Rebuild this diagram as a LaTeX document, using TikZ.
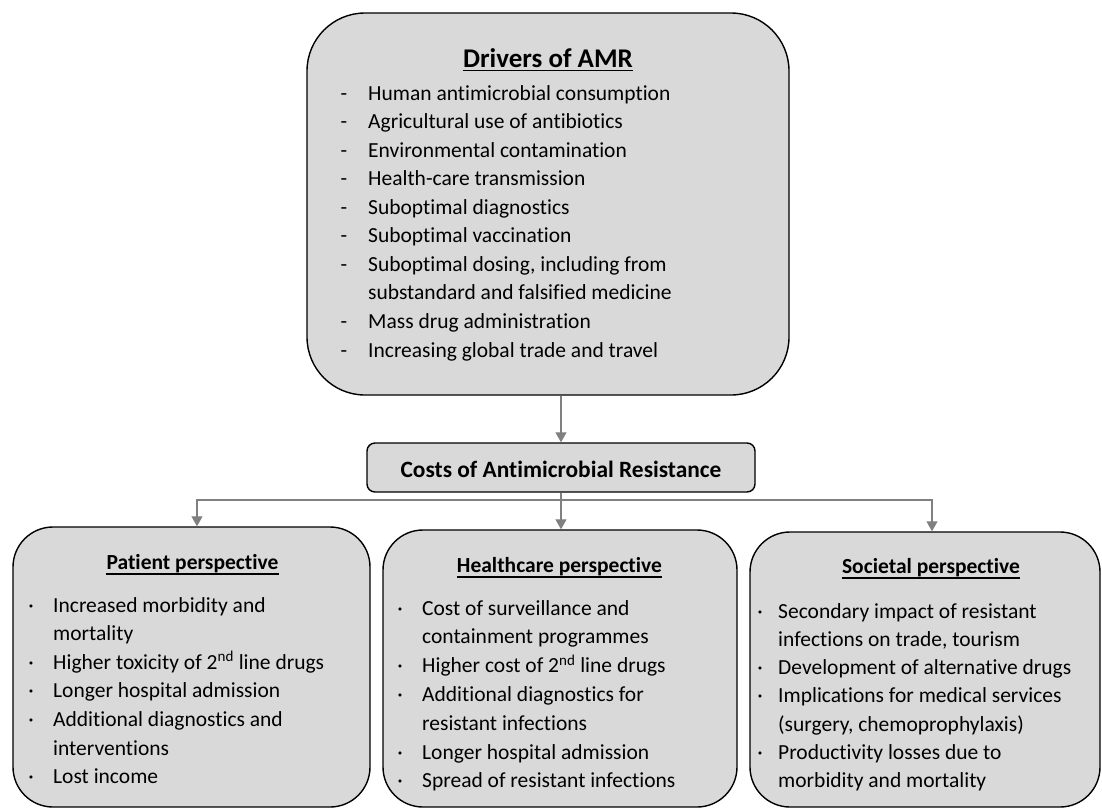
\documentclass[tikz,border=0pt]{standalone}
\usepackage{fontspec}
\setmainfont{Carlito}[Ligatures={NoCommon}]
\usetikzlibrary{arrows.meta}
\definecolor{boxfill}{RGB}{217,217,217}
\definecolor{conngray}{RGB}{128,128,128}
\tikzset{
  bigbox/.style={draw=black, line width=1.4pt, fill=boxfill, rounded corners=#1, inner sep=0pt},
  txt/.style={inner sep=0pt, anchor=base west, font=\fontsize{21.5}{26}\selectfont},
  bul/.style={inner sep=0pt, anchor=base, font=\fontsize{21.5}{26}\selectfont},
  ttl/.style={inner sep=0pt, anchor=base, font=\fontsize{21.5}{26}\selectfont\bfseries},
  uline/.style={line width=1.3pt},
  connline/.style={draw=conngray, line width=1.1pt},
  arr/.style={connline, -{Triangle[width=11pt,length=10pt]}}
}
\begin{document}
\begin{tikzpicture}[x=1pt,y=-1pt]
\useasboundingbox (0,0) rectangle (1102,809);
% boxes
\node[bigbox=58, minimum width=482, minimum height=382] (drivers) at (548,204) {};
\node[bigbox=8, minimum width=388, minimum height=49] (costs) at (561,467.5) {};
\node[bigbox=40, minimum width=357, minimum height=280] (patient) at (191.5,667) {};
\node[bigbox=40, minimum width=354, minimum height=277] (health) at (560,668.5) {};
\node[bigbox=40, minimum width=350, minimum height=275] (soc) at (925,669.5) {};
% connectors
\draw[arr] (costs.north |- drivers.south) -- (costs.north);
\coordinate (hub) at (561,500);
\draw[connline] (costs.south) -- (hub);
\draw[arr] (hub) -| ([xshift=5.5pt]patient.north);
\draw[arr] (hub) -- (hub |- health.north);
\draw[arr] (hub) -| ([xshift=7pt]soc.north);
% titles
\node[ttl, font=\fontsize{27}{32}\selectfont\bfseries] (t0) at (548,67) {Drivers of AMR};
\draw[uline] ([yshift=-3.5pt]t0.base west) -- ([yshift=-3.5pt]t0.base east);
\node[ttl, font=\fontsize{23.4}{28}\selectfont\bfseries] (t1) at (561,477) {Costs of Antimicrobial Resistance};
\node[ttl] (t2) at (192.5,569) {Patient perspective};
\draw[uline] ([yshift=-5pt]t2.base west) -- ([yshift=-5pt]t2.base east);
\node[ttl] (t3) at (559.5,572) {Healthcare perspective};
\draw[uline] ([yshift=-5pt]t3.base west) -- ([yshift=-5pt]t3.base east);
\node[ttl] (t4) at (931,573) {Societal perspective};
\draw[uline] ([yshift=-5pt]t4.base west) -- ([yshift=-5pt]t4.base east);
% drivers items
\foreach \t/\m [count=\k from 0] in {Human antimicrobial consumption/-,Agricultural use of antibiotics/-,Environmental contamination/-,Health-care transmission/-,Suboptimal diagnostics/-,Suboptimal vaccination/-,{Suboptimal dosing, including from}/-,substandard and falsified medicine/,Mass drug administration/-,Increasing global trade and travel/-}{
  \node[txt] (d\k) at (368,100+28.56*\k) {\t};
  \node[bul] (dm\k) at (344,100+28.56*\k) {\m};
}
% patient items
\foreach \t/\m [count=\k from 0] in {Increased morbidity and/·,mortality/,Higher toxicity of 2\textsuperscript{nd} line drugs/·,Longer hospital admission/·,Additional diagnostics and/·,interventions/,Lost income/·}{
  \node[txt] (p\k) at (53,612+28.6*\k) {\t};
  \node[bul] (pm\k) at (31,612+28.6*\k) {\m};
}
% healthcare items
\foreach \t/\m [count=\k from 0] in {Cost of surveillance and/·,containment programmes/,Higher cost of 2\textsuperscript{nd} line drugs/·,Additional diagnostics for/·,resistant infections/,Longer hospital admission/·,Spread of resistant infections/·}{
  \node[txt] (h\k) at (422,615+28.8*\k) {\t};
  \node[bul] (hm\k) at (400,615+28.8*\k) {\m};
}
% societal items
\foreach \t/\m [count=\k from 0] in {Secondary impact of resistant/·,{infections on trade, tourism}/,Development of alternative drugs/·,Implications for medical services/·,{(surgery, chemoprophylaxis)}/,Productivity losses due to/·,morbidity and mortality/}{
  \node[txt] (s\k) at (778,618+28.3*\k) {\t};
  \node[bul] (sm\k) at (760,618+28.3*\k) {\m};
}
\end{tikzpicture}
\end{document}
